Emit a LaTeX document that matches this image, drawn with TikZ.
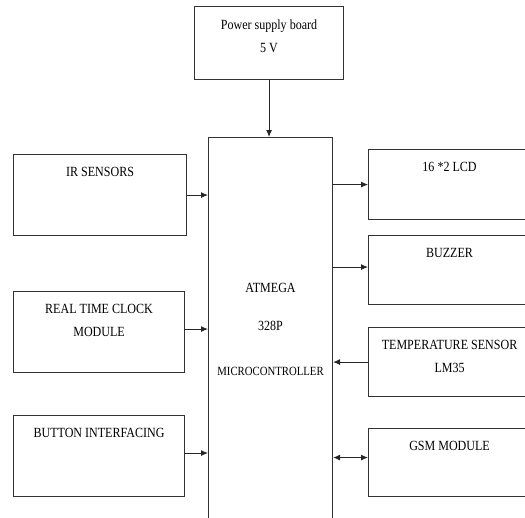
\documentclass[tikz,border=0pt]{standalone}
\usepackage{fontspec}
\setmainfont{Liberation Serif}[FakeStretch=0.86]
\usetikzlibrary{arrows.meta,positioning}

\begin{document}
\begin{tikzpicture}[
  x=1pt, y=-1pt,
  font=\fontsize{14}{23}\selectfont,
  >={Latex[length=7pt,width=6pt]},
  blk/.style={
    rectangle, draw=black!80, line width=1.1pt,
    anchor=north west, inner sep=0pt
  },
  blktext/.style={
    anchor=north, align=center, inner sep=0pt, yshift=-13.5pt
  },
  link/.style={
    ->, line width=0.9pt, black!85
  }
]

\useasboundingbox (0,0) rectangle (525,517);

% ===== Power supply =====
\node[blk, minimum width=149pt, minimum height=73pt,
  label={[blktext]north:Power supply board\\5 V}] (pwr) at (194,6) {};

% ===== Microcontroller =====
\node[blk, minimum width=124pt, minimum height=383pt, align=center] (mcu) at (208,137)
  {ATMEGA\\[15pt]328P\\[22pt]{\fontsize{12.5}{15}\selectfont MICROCONTROLLER}};

% ===== Inputs (left) =====
\node[blk, minimum width=173pt, minimum height=81pt,
  label={[blktext]north:IR SENSORS}] (ir) at (13,154) {};
\node[blk, minimum width=171pt, minimum height=81pt,
  label={[blktext]north:REAL TIME CLOCK\\MODULE}] (rtc) at (13,291) {};
\node[blk, minimum width=171pt, minimum height=81pt,
  label={[blktext]north:BUTTON INTERFACING}] (btn) at (13,415) {};

% ===== Peripherals (right) =====
\node[blk, minimum width=162pt, minimum height=70pt,
  label={[blktext]north:16 *2 LCD}] (lcd) at (368,149) {};
\node[blk, minimum width=162pt, minimum height=69pt,
  label={[blktext]north:BUZZER}] (buz) at (368,235) {};
\node[blk, minimum width=162pt, minimum height=69pt,
  label={[blktext]north:TEMPERATURE SENSOR\\LM35}] (temp) at (368,327) {};
\node[blk, minimum width=162pt, minimum height=68pt,
  label={[blktext]north:GSM MODULE}] (gsm) at (368,428) {};

% Connections
\draw[link] (pwr.south) -- (pwr.south |- mcu.north);
\draw[link] (ir.east) -- (ir.east -| mcu.west);
\draw[link] ([yshift=3pt]rtc.east) -- ([yshift=3pt]rtc.east -| mcu.west);
\draw[link] ([yshift=3pt]btn.east) -- ([yshift=3pt]btn.east -| mcu.west);
\draw[link] (mcu.east |- lcd.west) -- (lcd.west);
\draw[link] ([yshift=3pt]mcu.east |- buz.west) -- ([yshift=3pt]buz.west);
\draw[link] (temp.west) -- (temp.west -| mcu.east);
\draw[link, <->] ([yshift=5pt]mcu.east |- gsm.west) -- ([yshift=5pt]gsm.west);

\end{tikzpicture}
\end{document}
